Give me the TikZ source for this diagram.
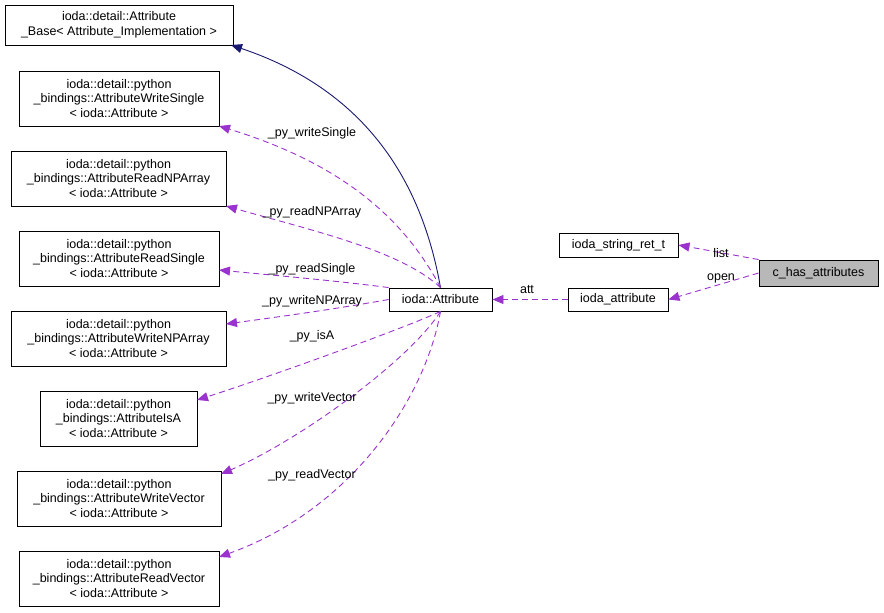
\documentclass[tikz,border=0pt]{standalone}
\usepackage{fontspec}
\setmainfont{Liberation Sans}
\usetikzlibrary{arrows.meta}
\definecolor{orch}{HTML}{9A32CD}
\definecolor{navy}{HTML}{191970}
\begin{document}
\begin{tikzpicture}[x=1pt,y=-1pt,
  box/.style={draw=black,line width=0.9pt,fill=white,inner sep=0pt,align=center,font=\fontsize{12.5}{14.5}\selectfont},
  lab/.style={font=\fontsize{12.5}{14}\selectfont,inner sep=1pt},
  dep/.style={draw=orch,line width=0.9pt,dash pattern=on 6pt off 4pt,-{Triangle[length=11pt,width=9pt,fill=orch]}},
  inh/.style={draw=navy,line width=0.9pt,-{Triangle[length=11pt,width=9pt,fill=navy]}}]
\useasboundingbox (0,0) rectangle (884,613);
\tikzset{bx/.style args={#1/#2/#3/#4}{box,minimum width=#3-#1,minimum height=#4-#2}}
\node[bx=5/5/233/45] (base) at (119,25) {ioda::detail::Attribute\\\_Base< Attribute\_Implementation >};
\node[bx=19/71/219/126] (ws) at (119,98.5) {ioda::detail::python\\\_bindings::AttributeWriteSingle\\< ioda::Attribute >};
\node[bx=11/151/226/206] (rnp) at (118.5,178.5) {ioda::detail::python\\\_bindings::AttributeReadNPArray\\< ioda::Attribute >};
\node[bx=19/231/219/286] (rs) at (119,258.5) {ioda::detail::python\\\_bindings::AttributeReadSingle\\< ioda::Attribute >};
\node[bx=11/311/226/366] (wnp) at (118.5,338.5) {ioda::detail::python\\\_bindings::AttributeWriteNPArray\\< ioda::Attribute >};
\node[bx=40/391/197/446] (isa) at (118.5,418.5) {ioda::detail::python\\\_bindings::AttributeIsA\\< ioda::Attribute >};
\node[bx=17/471/221/526] (wv) at (119,498.5) {ioda::detail::python\\\_bindings::AttributeWriteVector\\< ioda::Attribute >};
\node[bx=19/551/219/606] (rv) at (119,578.5) {ioda::detail::python\\\_bindings::AttributeReadVector\\< ioda::Attribute >};
\node[bx=389/288/492/311] (attr) at (440.5,299.5) {ioda::Attribute};
\node[bx=568/288/668/311] (ia) at (618,299.5) {ioda\_attribute};
\node[bx=559/233/678/257] (srt) at (618.5,245) {ioda\_string\_ret\_t};
\node[bx=759/260/878/286,fill=black!28] (c) at (818.5,273) {c\_has\_attributes};

\draw[inh] (attr.north) .. controls (425,200) and (380,95) .. (231,45);
\draw[dep] (attr.north) .. controls (400,210) and (330,160) .. (219,126);
\draw[dep] (attr.north) .. controls (400,250) and (310,230) .. (226,206);
\draw[dep] (attr.north west) .. controls (330,280) and (270,275) .. (219,270);
\draw[dep] (attr.west) .. controls (330,310) and (270,318) .. (226,324);
\draw[dep] (attr.south) .. controls (400,330) and (260,380) .. (197,400);
\draw[dep] (attr.south) .. controls (410,360) and (300,440) .. (221,474);
\draw[dep] (attr.south) .. controls (425,400) and (350,510) .. (219,557);
\draw[dep] (ia.west) -- (attr.east);
\draw[dep] (c.west) -- (ia.east);
\draw[dep] (c.north west) -- (srt.east);

\node[lab] (l1) at (312,133) {\_py\_writeSingle};
\node[lab] (l2) at (312,212) {\_py\_readNPArray};
\node[lab] (l3) at (312,269) {\_py\_readSingle};
\node[lab] (l4) at (312,301) {\_py\_writeNPArray};
\node[lab] (l5) at (312,336) {\_py\_isA};
\node[lab] (l6) at (312,398) {\_py\_writeVector};
\node[lab] (l7) at (312,475) {\_py\_readVector};
\node[lab] (l8) at (527,290) {att};
\node[lab] (l9) at (721,253) {list};
\node[lab] (l10) at (721,278) {open};
\end{tikzpicture}
\end{document}
